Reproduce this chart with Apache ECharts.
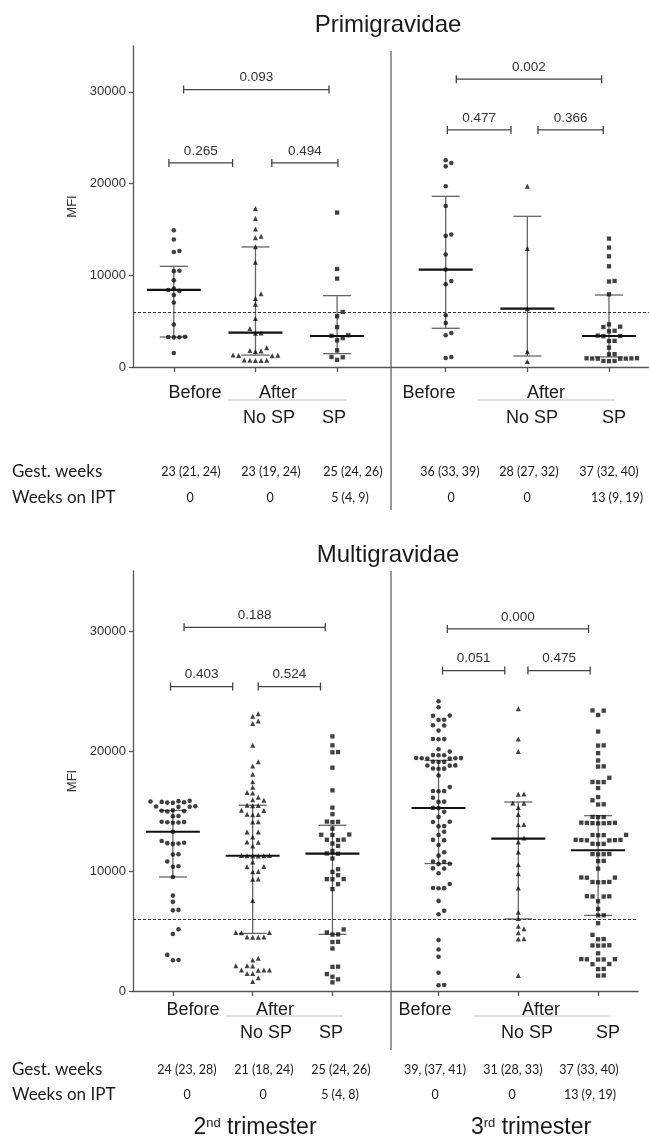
<!DOCTYPE html>
<html>
<head>
<meta charset="utf-8">
<title>MFI before and after IPT-SP</title>
<script src="https://cdn.jsdelivr.net/npm/echarts@6/dist/echarts.min.js"></script>
<style>
  html, body { margin: 0; padding: 0; background: #fff; }
  #chart { width: 649px; height: 1139px; }
</style>
</head>
<body>
<div id="chart"></div>
<script>
// x position of each group (2nd trimester: 1-3, 3rd trimester: 4.33-6.33)
const GROUP_X = [1, 2, 3, 4.33, 5.33, 6.33];
const GROUP_SYMBOL = ['circle', 'triangle', 'rect', 'circle', 'triangle', 'rect'];
const Y_TICKS = [0, 10000, 20000, 30000];
const CUTOFF = 6000;

// Primigravidae, MFI per woman
const primiBefore2 = [14900, 13900, 12650, 12540, 10500, 10450, 9450, 8550, 8400, 8300, 7850, 7030, 4630, 3300, 3270, 3250, 3230, 1530];
const primiNoSp2 = [17270, 16180, 15050, 14250, 14100, 13100, 11420, 8000, 7460, 6840, 5280, 4190, 3710, 3690, 2110, 1800, 1750, 1700, 1300, 1280, 1260, 1240, 760, 740, 730, 720, 700];
const primiSp2 = [16840, 10690, 9640, 6000, 5530, 4360, 3460, 3400, 3150, 2900, 1820, 1090, 1060, 780];
const primiBefore3 = [22540, 22250, 21880, 19700, 17560, 14440, 14300, 12260, 10620, 9380, 9020, 5640, 4800, 3710, 3460, 1090, 980];
const primiNoSp3 = [19700, 12910, 6350, 1650, 600];
const primiSp3 = [14000, 13020, 12070, 10980, 9380, 9320, 7930, 4650, 4400, 4360, 3950, 3900, 3420, 3380, 3360, 2850, 2830, 2110, 1400, 1380, 960, 950, 940, 930, 920, 910, 900, 660, 650, 640];
// [median, q1, q3]
const primiStats = [[8400, 3270, 10980], [3750, 1300, 13090], [3380, 1460, 7780], [10620, 4220, 18610], [6370, 1200, 16430], [3380, 1100, 7850]];
const primiBracketFrom = [0.94, 2.2, 1.12, 4.35, 5.46, 4.46];
const primiBracketTo = [1.72, 3.01, 2.9, 5.13, 6.26, 6.24];
const primiBracketY = [22250, 22250, 30250, 25850, 25850, 31380];
const primiBracketP = ['0.265', '0.494', '0.093', '0.477', '0.366', '0.002'];
const primiGest = ['23 (21, 24)', '23 (19, 24)', '25 (24, 26)', '36 (33, 39)', '28 (27, 32)', '37 (32, 40)'];
const primiIpt = ['0', '0', '5 (4, 9)', '0', '0', '13 (9, 19)'];

// Multigravidae, MFI per woman
const multiBefore2 = [15850, 15820, 15790, 15760, 15730, 15700, 15680, 15400, 15380, 15360, 15340, 15050, 15020, 14990, 14960, 14580, 14560, 14100, 14080, 14060, 14040, 14020, 13270, 12500, 12350, 12320, 12290, 12260, 11400, 11380, 10790, 10400, 10360, 9500, 7950, 7430, 6760, 6720, 5140, 4750, 3010, 2580, 2560];
const multiNoSp2 = [23100, 22900, 22500, 22300, 20470, 19100, 18750, 18060, 17440, 16970, 16540, 16500, 16150, 15930, 15900, 15470, 15460, 15440, 15060, 15040, 14720, 14700, 14680, 14100, 14080, 13260, 13240, 12840, 12420, 12400, 12090, 11300, 11290, 11280, 11270, 11260, 11250, 10760, 10370, 10350, 9950, 9930, 9330, 9310, 7540, 4880, 4870, 4860, 4500, 4490, 4480, 4470, 2720, 2580, 2110, 2100, 2090, 1760, 1750, 1740, 1730, 1460, 1450, 1110, 790];
const multiSp2 = [21220, 20470, 19910, 19890, 18610, 16720, 15280, 14730, 14120, 14100, 14080, 13530, 13040, 13020, 13000, 12620, 12600, 12580, 12290, 12090, 11670, 11460, 11440, 11040, 10150, 9930, 9650, 9330, 9320, 9310, 8900, 8490, 5130, 4880, 4720, 4700, 4100, 4080, 3540, 2030, 2010, 1410, 1190, 970, 720];
const multiBefore3 = [24150, 23650, 22960, 22940, 22600, 22580, 22150, 22130, 21700, 21000, 20990, 20980, 20140, 19950, 19660, 19650, 19640, 19420, 19410, 19400, 19390, 19380, 19370, 19100, 19090, 19080, 18800, 18790, 18780, 18540, 18530, 18520, 17960, 16990, 16670, 16660, 16650, 16100, 15780, 15760, 15260, 15240, 14930, 14510, 14100, 14080, 13740, 13720, 13270, 13000, 12590, 12570, 12170, 11560, 11280, 10790, 10770, 10600, 10580, 10220, 10200, 9810, 8920, 8580, 8570, 8560, 7510, 6680, 6400, 4240, 3460, 2850, 1520, 500, 480];
const multiNoSp3 = [23520, 20990, 19950, 16420, 16400, 15670, 15650, 15300, 14700, 13880, 13860, 12760, 12420, 11590, 10530, 9780, 8590, 6570, 6040, 5400, 5180, 4850, 4360, 4340, 1300];
const multiSp3 = [23380, 23360, 23000, 21620, 20470, 20450, 19820, 19210, 18720, 18700, 17770, 17420, 17410, 17400, 16910, 16160, 15890, 15560, 15540, 14510, 14500, 14490, 14030, 14020, 14010, 14000, 13990, 13980, 13970, 13010, 13000, 12990, 12980, 12600, 12590, 12580, 12570, 12560, 12550, 12270, 12260, 12250, 11420, 11410, 11400, 11390, 10840, 10820, 10200, 9460, 9450, 9440, 9090, 9080, 9070, 9060, 7900, 7890, 7880, 7870, 7480, 6840, 6310, 6300, 5650, 4680, 4330, 4310, 3810, 3800, 3790, 3780, 3140, 2660, 2650, 2640, 2630, 2620, 2250, 2230, 1840, 1820, 1300, 1280];
const multiStats = [[13270, 9500, 15050], [11270, 4800, 15480], [11450, 4720, 13810], [15250, 10620, 19220], [12700, 6000, 15750], [11730, 6300, 14610]];
const multiBracketFrom = [0.97, 2.07, 1.14, 4.38, 5.45, 4.44];
const multiBracketTo = [1.75, 2.85, 2.91, 5.16, 6.23, 6.21];
const multiBracketY = [25370, 25370, 30310, 26700, 26700, 30170];
const multiBracketP = ['0.403', '0.524', '0.188', '0.051', '0.475', '0.000'];
const multiGest = ['24 (23, 28)', '21 (18, 24)', '25 (24, 26)', '39, (37, 41)', '31 (28, 33)', '37 (33, 40)'];
const multiIpt = ['0', '0', '5 (4, 8)', '0', '0', '13 (9, 19)'];

const ARIAL = '"Liberation Sans", Arial, sans-serif';
const CALIBRI = 'Lato, "Open Sans", sans-serif';
const INK = '#1a1a1a';
const AXIS = '#555';
const STEP = 5.6; // px between neighbouring dots in a row

// page layout of the two panels
const panels = [
  {
    title: 'Primigravidae', titleY: 25,
    grid: { left: 133, top: 46, width: 516, height: 321 }, xMax: 6.82,
    groups: [primiBefore2, primiNoSp2, primiSp2, primiBefore3, primiNoSp3, primiSp3],
    stats: primiStats,
    bracket: { from: primiBracketFrom, to: primiBracketTo, y: primiBracketY, p: primiBracketP },
    gest: primiGest, ipt: primiIpt,
    sep: [51, 510],
    row1: 393, line: 400, row2: 418, gestY: 472, iptY: 498,
    before: [195, 429], after: [278, 546], under: [[228, 347], [478, 615]],
    noSp: [269, 532], sp: [334, 614],
    gestX: [191, 271, 353, 450, 529, 609], iptX: [190, 270, 350, 451, 527, 617],
  },
  {
    title: 'Multigravidae', titleY: 555,
    grid: { left: 133, top: 571, width: 505, height: 420 }, xMax: 6.83,
    groups: [multiBefore2, multiNoSp2, multiSp2, multiBefore3, multiNoSp3, multiSp3],
    stats: multiStats,
    bracket: { from: multiBracketFrom, to: multiBracketTo, y: multiBracketY, p: multiBracketP },
    gest: multiGest, ipt: multiIpt,
    sep: [571, 1050],
    row1: 1010, line: 1016, row2: 1033, gestY: 1070, iptY: 1095,
    before: [193, 425], after: [275, 541], under: [[226, 343], [474, 609]],
    noSp: [266, 527], sp: [331, 608],
    gestX: [187, 264, 341, 435, 513, 589], iptX: [187, 263, 340, 435, 512, 590],
  },
];

const chart = echarts.init(document.getElementById('chart'));

function text(str, x, y, font, align) {
  return {
    type: 'text', x, y, silent: true,
    style: {
      text: str, font, fill: INK,
      align: align || 'center', verticalAlign: 'middle',
      textAlign: align || 'center', textVerticalAlign: 'middle',
    },
  };
}
function hline(x1, x2, y, color, w) {
  return { type: 'line', silent: true, shape: { x1, y1: y, x2, y2: y }, style: { stroke: color, lineWidth: w } };
}

const graphics = [];
panels.forEach((p) => {
  graphics.push(text(p.title, 388, p.titleY, '24px ' + ARIAL));
  graphics.push({ type: 'line', silent: true, shape: { x1: 391, y1: p.sep[0], x2: 391, y2: p.sep[1] }, style: { stroke: '#777', lineWidth: 1.5 } });
  for (let t = 0; t < 2; t++) {
    graphics.push(text('Before', p.before[t], p.row1, '18px ' + ARIAL));
    graphics.push(hline(p.under[t][0], p.under[t][1], p.line, '#bbb', 1));
    graphics.push(text('After', p.after[t], p.row1, '18px ' + ARIAL));
    graphics.push(text('No SP', p.noSp[t], p.row2, '18px ' + ARIAL));
    graphics.push(text('SP', p.sp[t], p.row2, '18px ' + ARIAL));
  }
  graphics.push(text('Gest. weeks', 12, p.gestY, '17px ' + CALIBRI, 'left'));
  graphics.push(text('Weeks on IPT', 12, p.iptY, '17px ' + CALIBRI, 'left'));
  p.gest.forEach((s, i) => graphics.push(text(s, p.gestX[i], p.gestY, '12.5px ' + CALIBRI)));
  p.ipt.forEach((s, i) => graphics.push(text(s, p.iptX[i], p.iptY, '12.5px ' + CALIBRI)));
});
[['2', 'nd', 255], ['3', 'rd', 531]].forEach(([n, suf, x]) => {
  graphics.push({
    type: 'text', x, y: 1128, silent: true,
    style: {
      text: '{n|' + n + '}{s|' + suf + '}{n| trimester}',
      align: 'center', verticalAlign: 'middle', textAlign: 'center', textVerticalAlign: 'middle',
      rich: {
        n: { fontSize: 23, fontFamily: ARIAL, fill: INK, color: INK },
        s: { fontSize: 13, fontFamily: ARIAL, fill: INK, color: INK, verticalAlign: 'top', padding: [0, 0, 10, 0] },
      },
    },
  });
});

function statsItem(params, api) {
  const x = api.value(0);
  const m = api.coord([x, api.value(1)]);
  const lo = api.coord([x, api.value(2)]);
  const hi = api.coord([x, api.value(3)]);
  const thin = { stroke: '#666', lineWidth: 1.3 };
  return {
    type: 'group',
    children: [
      { type: 'line', shape: { x1: lo[0], y1: lo[1], x2: hi[0], y2: hi[1] }, style: thin },
      { type: 'line', shape: { x1: lo[0] - 14, y1: lo[1], x2: lo[0] + 14, y2: lo[1] }, style: thin },
      { type: 'line', shape: { x1: hi[0] - 14, y1: hi[1], x2: hi[0] + 14, y2: hi[1] }, style: thin },
      { type: 'line', shape: { x1: m[0] - 27, y1: m[1], x2: m[0] + 27, y2: m[1] }, style: { stroke: '#111', lineWidth: 2.2 } },
    ],
  };
}

function bracketRenderer(labels) {
  return function (params, api) {
    const a = api.coord([api.value(0), api.value(2)]);
    const b = api.coord([api.value(1), api.value(2)]);
    const st = { stroke: '#444', lineWidth: 1.3 };
    return {
      type: 'group',
      children: [
        { type: 'line', shape: { x1: a[0], y1: a[1], x2: b[0], y2: b[1] }, style: st },
        { type: 'line', shape: { x1: a[0], y1: a[1] - 4, x2: a[0], y2: a[1] + 4 }, style: st },
        { type: 'line', shape: { x1: b[0], y1: b[1] - 4, x2: b[0], y2: b[1] + 4 }, style: st },
        {
          type: 'text', x: (a[0] + b[0]) / 2, y: a[1] - 12,
          style: {
            text: labels[params.dataIndex], font: '13.5px ' + ARIAL, fill: '#333',
            align: 'center', verticalAlign: 'middle', textAlign: 'center', textVerticalAlign: 'middle',
          },
        },
      ],
    };
  };
}

const baseSeries = [];
panels.forEach((p, i) => {
  baseSeries.push({
    type: 'custom', xAxisIndex: i, yAxisIndex: i, z: 2, silent: true,
    renderItem: statsItem,
    data: GROUP_X.map((x, g) => [x].concat(p.stats[g])),
  });
  baseSeries.push({
    type: 'custom', xAxisIndex: i, yAxisIndex: i, z: 3, silent: true,
    renderItem: bracketRenderer(p.bracket.p),
    data: p.bracket.from.map((f, k) => [f, p.bracket.to[k], p.bracket.y[k]]),
  });
});

const option = {
  animation: false,
  backgroundColor: '#fff',
  graphic: { elements: graphics },
  grid: panels.map((p) => Object.assign({ containLabel: false }, p.grid)),
  xAxis: panels.map((p, i) => ({
    gridIndex: i, type: 'value', min: 0.5, max: p.xMax,
    axisLine: { show: true, onZero: false, lineStyle: { color: AXIS, width: 1.3 } },
    axisTick: { show: true, customValues: GROUP_X, length: 5, lineStyle: { color: AXIS, width: 1.3 } },
    axisLabel: { show: false },
    splitLine: { show: false },
  })),
  yAxis: panels.map((p, i) => ({
    gridIndex: i, type: 'value', min: 0, max: 35000, interval: 10000,
    name: 'MFI', nameLocation: 'middle', nameGap: 44, nameRotate: 90,
    nameTextStyle: { fontFamily: ARIAL, fontSize: 13, color: '#333' },
    axisLine: { show: true, lineStyle: { color: AXIS, width: 1.3 } },
    axisTick: { show: true, customValues: Y_TICKS, length: 4, lineStyle: { color: AXIS, width: 1.3 } },
    axisLabel: {
      customValues: Y_TICKS, formatter: (v) => String(v),
      fontFamily: ARIAL, fontSize: 13, color: '#333', margin: 7,
    },
    splitLine: { show: false },
  })),
  series: baseSeries,
};
chart.setOption(option);

// beeswarm: dots that would overlap are pushed sideways, alternating right / left
function swarm(values, cx, gridIndex) {
  const placed = [];
  return values.slice().sort((a, b) => a - b).map((v) => {
    const [px, py] = chart.convertToPixel({ gridIndex }, [cx, v]);
    let dx = 0;
    for (let n = 0; n < 60; n++) {
      dx = n === 0 ? 0 : Math.ceil(n / 2) * STEP * (n % 2 ? 1 : -1);
      const free = placed.every((q) => (q[0] - dx) ** 2 + (q[1] - py) ** 2 >= STEP * STEP);
      if (free) break;
    }
    placed.push([dx, py]);
    return [chart.convertFromPixel({ gridIndex }, [px + dx, py])[0], v];
  });
}

const dotSeries = [];
panels.forEach((p, i) => {
  p.groups.forEach((vals, g) => {
    const s = {
      type: 'scatter', xAxisIndex: i, yAxisIndex: i, z: 4, silent: true,
      symbol: GROUP_SYMBOL[g],
      symbolSize: GROUP_SYMBOL[g] === 'triangle' ? 5 : (GROUP_SYMBOL[g] === 'rect' ? 4.3 : 4.6),
      itemStyle: { color: '#111' },
      data: swarm(vals, GROUP_X[g], i),
    };
    if (g === 0) {
      s.markLine = {
        silent: true, symbol: ['none', 'none'], label: { show: false },
        lineStyle: { color: '#333', width: 1, type: [3, 2] },
        data: [{ yAxis: CUTOFF }],
      };
    }
    dotSeries.push(s);
  });
});
chart.setOption({ series: baseSeries.concat(dotSeries) });
</script>
</body>
</html>
